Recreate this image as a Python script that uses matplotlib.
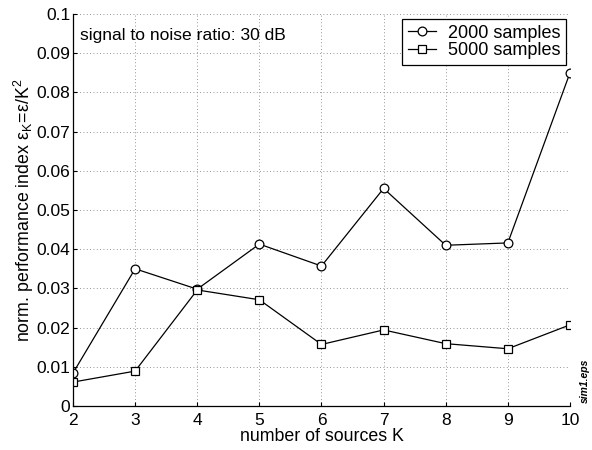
import matplotlib
matplotlib.use("Agg")
import matplotlib.pyplot as plt

K = [2, 3, 4, 5, 6, 7, 8, 9, 10]
eps_2000 = [0.0084, 0.0350, 0.0298, 0.0413, 0.0357, 0.0555, 0.0410, 0.0416, 0.0850]
eps_5000 = [0.0061, 0.0089, 0.0296, 0.0271, 0.0157, 0.0194, 0.0159, 0.0146, 0.0207]
yticks = [0, 0.01, 0.02, 0.03, 0.04, 0.05, 0.06, 0.07, 0.08, 0.09, 0.1]
yticklabels = ["0", "0.01", "0.02", "0.03", "0.04", "0.05", "0.06", "0.07", "0.08", "0.09", "0.1"]

plt.rcParams['font.family'] = ['Liberation Sans', 'DejaVu Sans']
plt.rcParams['mathtext.fontset'] = 'custom'
plt.rcParams['mathtext.rm'] = 'Liberation Sans'
plt.rcParams['mathtext.it'] = 'Liberation Sans'

fig = plt.figure(figsize=(5.92, 4.5), dpi=100)
ax = fig.add_axes([0.1233, 0.0978, 0.8395, 0.8711])

ax.plot(K, eps_2000, color='black', lw=0.9, marker='o', ms=6.3, mfc='white', mec='black', mew=0.9, label='2000 samples')
ax.plot(K, eps_5000, color='black', lw=0.9, marker='s', ms=5.3, mfc='white', mec='black', mew=0.9, label='5000 samples')

ax.set_xlim(2, 10)
ax.set_ylim(0, 0.1)
ax.set_xticks(K)
ax.set_yticks(yticks)
ax.set_yticklabels(yticklabels)
ax.tick_params(direction='in', length=3, labelsize=12.5, width=0.8, pad=2)
ax.tick_params(axis='x', pad=5)
ax.grid(True, linestyle=(0, (1, 3)), color='0.45', lw=0.6)
for s in ['top', 'right']:
    ax.spines[s].set_visible(False)
for s in ['left', 'bottom']:
    ax.spines[s].set_linewidth(0.9)

ax.set_xlabel('number of sources K', fontsize=12.8, labelpad=0)
ax.set_ylabel(r'norm. performance index $\mathregular{ε_K\!=\!ε/K^2}$', fontsize=12.8, labelpad=0)

ax.text(0.014, 0.945, 'signal to noise ratio: 30 dB', transform=ax.transAxes, fontsize=12.6, va='center', ha='left')
fig.text(0.988, 0.104, 'sim1.eps', rotation=90, fontsize=7.5, fontweight='bold', fontstyle='italic', ha='center', va='bottom')

leg = ax.legend(loc='upper right', bbox_to_anchor=(0.991, 0.987), fontsize=13, frameon=True, fancybox=False,
                edgecolor='black', framealpha=1, borderpad=0.3, handlelength=1.55, handletextpad=0.65,
                labelspacing=0.05, borderaxespad=0)
leg.get_frame().set_linewidth(0.9)

fig.savefig('out.png', dpi=100)
